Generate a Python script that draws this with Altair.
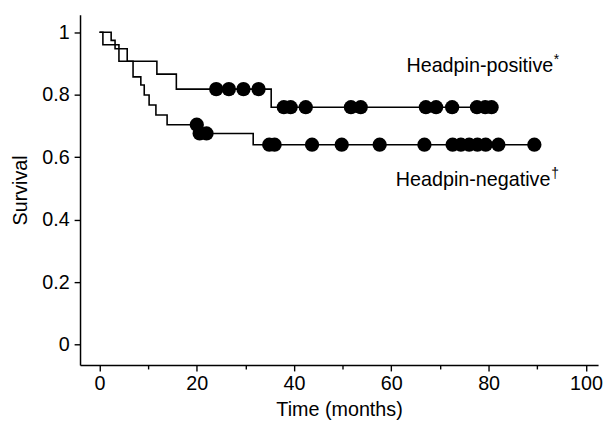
import altair as alt
import pandas as pd

# Kaplan-Meier step curves (time in months, survival)
pos_step_time = [0, 0.7, 4.0, 11.8, 15.8, 35.3, 80.6]
pos_step_surv = [1.0, 0.960, 0.907, 0.866, 0.818, 0.760, 0.760]

neg_step_time = [0, 2.4, 3.2, 5.7, 6.9, 8.5, 9.2, 10.2, 11.6, 13.9, 20.2, 31.6, 89.4]
neg_step_surv = [1.0, 0.974, 0.947, 0.907, 0.857, 0.831, 0.799, 0.767, 0.735, 0.704, 0.676, 0.640, 0.640]

# censored observations (dots)
pos_cens_time = [24.0, 26.6, 29.6, 32.7, 37.9, 39.3, 42.4, 51.7, 53.7, 67.1, 69.2, 72.5, 77.6, 79.3, 80.6]
pos_cens_surv = [0.818, 0.818, 0.818, 0.818, 0.76, 0.76, 0.76, 0.76, 0.76, 0.76, 0.76, 0.76, 0.76, 0.76, 0.76]

neg_cens_time = [20.0, 20.6, 22.0, 34.9, 36.0, 43.7, 49.8, 57.6, 66.8, 72.6, 74.3, 76.0, 77.7, 79.4, 82.0, 89.4]
neg_cens_surv = [0.704, 0.676, 0.676, 0.64, 0.64, 0.64, 0.64, 0.64, 0.64, 0.64, 0.64, 0.64, 0.64, 0.64, 0.64, 0.64]

# curve labels
label_text = ["Headpin-positive", "Headpin-negative"]
label_time = [93.3, 92.7]
label_surv = [0.873, 0.508]
sup_text = ["*", "\u2020"]
sup_time = [93.4, 92.9]
sup_surv = [0.899, 0.533]

x_ticks = [0, 5, 10, 15, 20, 25, 30, 35, 40, 45, 50, 55, 60, 65, 70, 75, 80, 85, 90, 95, 100]
y_ticks = [0, 0.1, 0.2, 0.3, 0.4, 0.5, 0.6, 0.7, 0.8, 0.9, 1.0]

steps = pd.concat([
    pd.DataFrame({"time": pos_step_time, "surv": pos_step_surv, "group": "positive"}),
    pd.DataFrame({"time": neg_step_time, "surv": neg_step_surv, "group": "negative"}),
])
cens = pd.concat([
    pd.DataFrame({"time": pos_cens_time, "surv": pos_cens_surv}),
    pd.DataFrame({"time": neg_cens_time, "surv": neg_cens_surv}),
])
labels = pd.DataFrame({"time": label_time, "surv": label_surv, "label": label_text})
sups = pd.DataFrame({"time": sup_time, "surv": sup_surv, "label": sup_text})

FONT = "Liberation Sans"

x_scale = alt.Scale(domain=[-4, 102.5], nice=False, zero=False)
y_scale = alt.Scale(domain=[-0.065, 1.056], nice=False, zero=False)

x_axis = alt.Axis(
    values=x_ticks,
    title="Time (months)",
    labelExpr="datum.value % 20 === 0 ? datum.label : ''",
    tickSize={"condition": {"test": "datum.value % 20 === 0", "value": 6}, "value": 4},
    labelPadding=3,
    titlePadding=6,
)
y_axis = alt.Axis(
    values=y_ticks,
    title="Survival",
    labelExpr="round(datum.value * 10) % 2 === 0 ? format(datum.value, '~g') : ''",
    tickSize={"condition": {"test": "round(datum.value * 10) % 2 === 0", "value": 6}, "value": 4},
    labelPadding=5,
    titlePadding=11,
)

line = alt.Chart(steps).mark_line(
    interpolate="step-after", color="black", strokeWidth=1.6
).encode(
    x=alt.X("time:Q", scale=x_scale, axis=x_axis),
    y=alt.Y("surv:Q", scale=y_scale, axis=y_axis),
    detail="group:N",
)

dots = alt.Chart(cens).mark_circle(size=210, color="black", opacity=1).encode(
    x="time:Q", y="surv:Q"
)

text = alt.Chart(labels).mark_text(
    align="right", baseline="alphabetic", fontSize=20, font=FONT, color="black"
).encode(x="time:Q", y="surv:Q", text="label:N")

sup = alt.Chart(sups).mark_text(
    align="left", baseline="alphabetic", fontSize=14, font=FONT, color="black"
).encode(x="time:Q", y="surv:Q", text="label:N")

chart = alt.layer(line, dots, text, sup).properties(
    width=525,
    height=355,
    padding={"left": 73, "top": 4, "right": 5, "bottom": 60},
    autosize=alt.AutoSizeParams(type="none"),
).configure_view(stroke=None).configure_axis(
    domainColor="black",
    domainWidth=1.5,
    tickColor="black",
    tickWidth=1.4,
    labelFont=FONT,
    labelFontSize=20,
    labelColor="black",
    titleFont=FONT,
    titleFontSize=20,
    titleFontWeight="normal",
    titleColor="black",
    grid=False,
)

chart.save("out.html", embed_options={"renderer": "svg", "actions": False})
